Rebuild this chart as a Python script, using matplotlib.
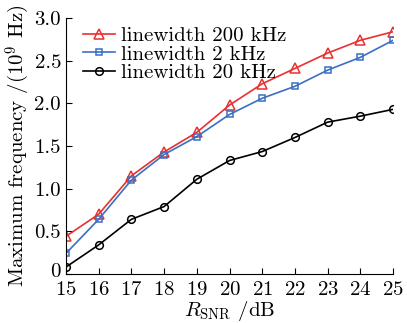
import matplotlib
matplotlib.use('Agg')
from matplotlib import pyplot as plt
from matplotlib.transforms import ScaledTranslation

snr = [15, 16, 17, 18, 19, 20, 21, 22, 23, 24, 25]
lw_200k = [0.44, 0.70, 1.15, 1.43, 1.66, 1.98, 2.23, 2.41, 2.59, 2.74, 2.84]
lw_2k = [0.24, 0.64, 1.10, 1.40, 1.61, 1.87, 2.06, 2.20, 2.39, 2.54, 2.74]
lw_20k = [0.08, 0.34, 0.64, 0.79, 1.11, 1.33, 1.435, 1.60, 1.78, 1.85, 1.93]

yticks = [0, 0.5, 1.0, 1.5, 2.0, 2.5, 3.0]
ytick_labels = ['0', '0.5', '1.0', '1.5', '2.0', '2.5', '3.0']

plt.rcParams['font.family'] = ['cmr10', 'DejaVu Serif']
plt.rcParams['mathtext.fontset'] = 'cm'
plt.rcParams['axes.formatter.use_mathtext'] = True

fig = plt.figure(figsize=(4.07, 3.23), dpi=100)
ax = fig.add_axes([0.162, 0.152, 0.804, 0.792])

ax.plot(snr, lw_200k, color='#e8302f', marker='^', ms=6.5, mfc='none', mew=1.1, lw=1.2,
        label='linewidth 200 kHz')
ax.plot(snr, lw_2k, color='#3a6fc4', marker='s', ms=4.5, mfc='none', mew=1.1, lw=1.2,
        label='linewidth 2 kHz')
ax.plot(snr, lw_20k, color='black', marker='o', ms=5.5, mfc='none', mew=1.1, lw=1.2,
        label='linewidth 20 kHz')

ax.set_xlim(15, 25)
ax.set_ylim(0, 3.0)
ax.set_xticks(snr)
ax.set_yticks(yticks)
ax.set_yticklabels(ytick_labels)
ax.tick_params(direction='in', labelsize=15, length=4)
ax.tick_params(axis='x', pad=5)
for s in ['top', 'right']:
    ax.spines[s].set_visible(False)

# nudge the "0" label up a bit so it doesn't collide with "15"
lab0 = ax.get_yticklabels()[0]
lab0.set_transform(lab0.get_transform() + ScaledTranslation(0, 3 / 72, fig.dpi_scale_trans))

ax.set_xlabel(r'$R_{\rm SNR}$ /dB', fontsize=15, labelpad=0)
ax.set_ylabel(r'Maximum frequency /(10$^9$ Hz)', fontsize=15, labelpad=2)

ax.legend(loc='upper left', frameon=False, fontsize=15, handlelength=1.5,
          labelspacing=0.0, borderaxespad=0.0, handletextpad=0.3,
          bbox_to_anchor=(0.028, 1.0))

fig.savefig('out.png', dpi=100)
